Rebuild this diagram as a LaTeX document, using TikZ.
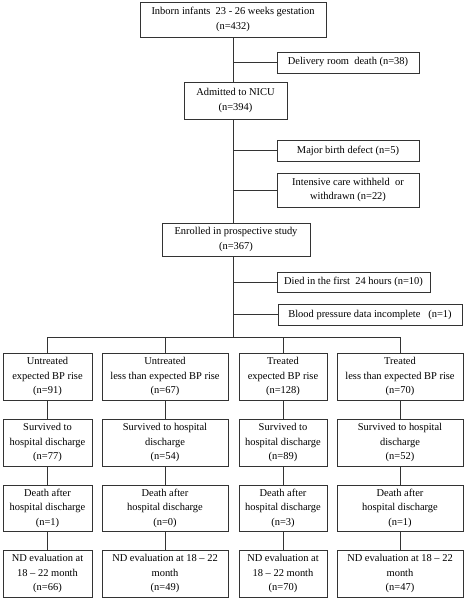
\documentclass[tikz,border=0pt]{standalone}
\usepackage{fontspec}
\setmainfont{Liberation Serif}

\begin{document}
\begin{tikzpicture}[x=1bp, y=-1bp, thin,
        box/.style={rectangle, draw=black!80, line width=0.6pt, align=center, inner sep=1pt,
            font=\fontsize{10.5}{14.5}\selectfont},
        link/.style={draw=black!80, line width=0.6pt}]

    \useasboundingbox (0,0) rectangle (467,601);

    % Pionowa os
    \node[box, minimum width=186bp, minimum height=35bp] (inborn) at (233,19.5) {Inborn infants\ \ 23 - 26 weeks gestation\\(n=432)};
    \node[box, minimum width=103bp, minimum height=37bp] (nicu) at (235.5,100.5) {Admitted to NICU\\(n=394)};
    \node[box, minimum width=148bp, minimum height=33bp] (enrolled) at (236,239.5) {Enrolled in prospective study\\(n=367)};

    % Wykluczenia
    \node[box, minimum width=142bp, minimum height=21bp] (delivery) at (348,62.5) {Delivery room\ \ death (n=38)};
    \node[box, minimum width=142bp, minimum height=21bp] (defect) at (348,150.5) {Major birth defect (n=5)};
    \node[box, minimum width=142bp, minimum height=34bp] (withheld) at (348,190) {Intensive care withheld\ \ or\\withdrawn (n=22)};
    \node[box, minimum width=153bp, minimum height=20bp] (died) at (353.5,282) {Died in the first\ \ 24 hours (n=10)};
    \node[box, minimum width=184bp, minimum height=21bp] (bpdata) at (370,314.5) {Blood pressure data incomplete\ \ \ (n=1)};

    % Grupy
    \node[box, minimum width=89bp, minimum height=47bp] (ue) at (47.5,376.5) {Untreated\\expected BP rise\\(n=91)};
    \node[box, minimum width=126bp, minimum height=47bp] (ul) at (165,376.5) {Untreated\\less than expected BP rise\\(n=67)};
    \node[box, minimum width=88bp, minimum height=47bp] (te) at (283,376.5) {Treated\\expected BP rise\\(n=128)};
    \node[box, minimum width=126bp, minimum height=47bp] (tl) at (400,376.5) {Treated\\less than expected BP rise\\(n=70)};

    \node[box, minimum width=89bp, minimum height=47bp] (ue surv) at (47.5,442.5) {Survived to\\hospital discharge\\(n=77)};
    \node[box, minimum width=126bp, minimum height=47bp] (ul surv) at (165,442.5) {Survived to hospital\\discharge\\(n=54)};
    \node[box, minimum width=88bp, minimum height=47bp] (te surv) at (283,442.5) {Survived to\\hospital discharge\\(n=89)};
    \node[box, minimum width=126bp, minimum height=47bp] (tl surv) at (400,442.5) {Survived to hospital\\discharge\\(n=52)};

    \node[box, minimum width=89bp, minimum height=46bp] (ue death) at (47.5,508) {Death after\\hospital discharge\\(n=1)};
    \node[box, minimum width=126bp, minimum height=46bp] (ul death) at (165,508) {Death after\\hospital discharge\\(n=0)};
    \node[box, minimum width=88bp, minimum height=46bp] (te death) at (283,508) {Death after\\hospital discharge\\(n=3)};
    \node[box, minimum width=126bp, minimum height=46bp] (tl death) at (400,508) {Death after\\hospital discharge\\(n=1)};

    \node[box, minimum width=89bp, minimum height=47bp] (ue nd) at (47.5,573.5) {ND evaluation at\\18 -- 22 month\\(n=66)};
    \node[box, minimum width=126bp, minimum height=47bp] (ul nd) at (165,573.5) {ND evaluation at 18 -- 22\\month\\(n=49)};
    \node[box, minimum width=88bp, minimum height=47bp] (te nd) at (283,573.5) {ND evaluation at\\18 -- 22 month\\(n=70)};
    \node[box, minimum width=126bp, minimum height=47bp] (tl nd) at (400,573.5) {ND evaluation at 18 -- 22\\month\\(n=47)};

    % Punkty rozgalezien
    \coordinate (j1) at (233,62.5);
    \coordinate (j2) at (233,150.5);
    \coordinate (j3) at (233,190);
    \coordinate (j4) at (233,282);
    \coordinate (j5) at (233,314.5);
    \coordinate (bar) at (233,337);
    \coordinate (bar ue) at (47.5,337);
    \coordinate (bar ul) at (165,337);
    \coordinate (bar te) at (283,337);
    \coordinate (bar tl) at (400,337);

    % Krawedzie
    \path[link] (inborn.south) -- (inborn.south |- nicu.north);
    \path[link] (inborn.south |- nicu.south) -- (inborn.south |- enrolled.north);
    \path[link] (inborn.south |- enrolled.south) -- (bar);
    \path[link] (j1) -- (delivery.west);
    \path[link] (j2) -- (defect.west);
    \path[link] (j3) -- (withheld.west);
    \path[link] (j4) -- (died.west);
    \path[link] (j5) -- (bpdata.west);
    \path[link] (bar ue) -- (bar tl);
    \path[link] (bar ue) -- (ue.north);
    \path[link] (bar ul) -- (ul.north);
    \path[link] (bar te) -- (te.north);
    \path[link] (bar tl) -- (tl.north);

    \path[link] (ue) -- (ue surv);
    \path[link] (ul) -- (ul surv);
    \path[link] (te) -- (te surv);
    \path[link] (tl) -- (tl surv);
    \path[link] (ue surv) -- (ue death);
    \path[link] (ul surv) -- (ul death);
    \path[link] (te surv) -- (te death);
    \path[link] (tl surv) -- (tl death);
    \path[link] (ue death) -- (ue nd);
    \path[link] (ul death) -- (ul nd);
    \path[link] (te death) -- (te nd);
    \path[link] (tl death) -- (tl nd);
\end{tikzpicture}
\end{document}
